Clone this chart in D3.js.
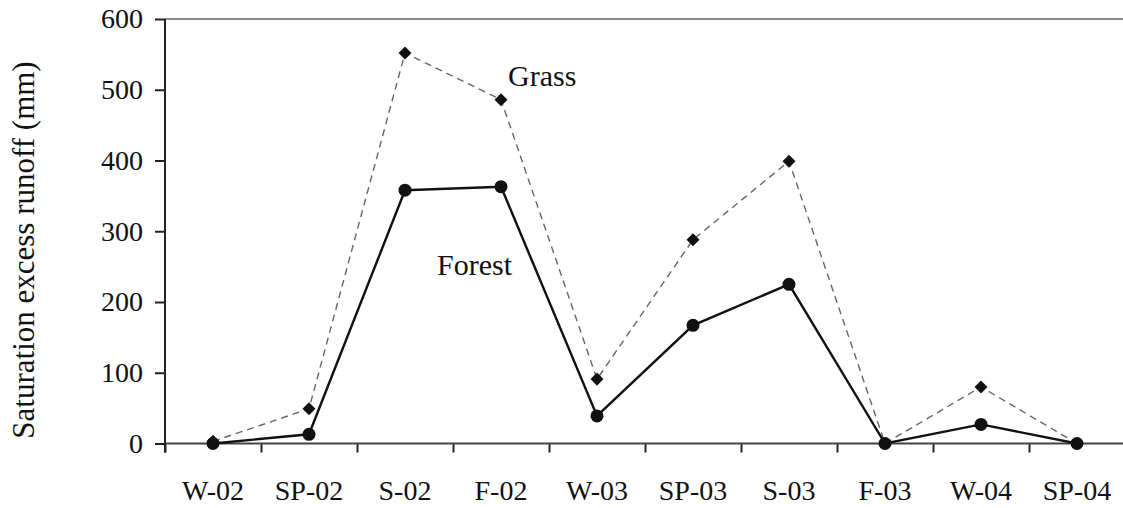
<!DOCTYPE html>
<html>
<head>
<meta charset="utf-8">
<script src="https://cdn.jsdelivr.net/npm/d3@7"></script>
<style>
  html, body { margin: 0; padding: 0; background: #fff; }
  svg { display: block; }
</style>
</head>
<body>
<svg id="chart" width="1123" height="508"></svg>
<script>
// Seasons (W = winter, SP = spring, S = summer, F = fall)
const seasons = ["W-02", "SP-02", "S-02", "F-02", "W-03", "SP-03", "S-03", "F-03", "W-04", "SP-04"];
// Saturation excess runoff (mm) per season
const grassRunoff  = [3, 49, 552, 486, 91, 288, 399, 0, 80, 0];
const forestRunoff = [0, 13, 358, 363, 39, 167, 225, 0, 27, 0];
const yTicks = [0, 100, 200, 300, 400, 500, 600];

const SERIF = "'Liberation Serif', 'Times New Roman', Times, serif";

const svg = d3.select("#chart");
const plotLeft = 165, plotRight = 1125, plotTop = 19, plotBottom = 443.5;

const x = d3.scaleBand().domain(seasons).range([plotLeft, plotRight]).padding(0);
const xEdge = d3.scaleLinear().domain([0, seasons.length]).range([plotLeft, plotRight]);
const y = d3.scaleLinear().domain([0, 600]).range([plotBottom, plotTop]);
const cx = d => x(d) + x.bandwidth() / 2;

// top frame line
svg.append("line")
  .attr("x1", plotLeft).attr("x2", 1123)
  .attr("y1", y(600)).attr("y2", y(600))
  .attr("stroke", "#8a8a8a").attr("stroke-width", 2);

// boundary ticks under the x axis
const xTickAxis = svg.append("g")
  .attr("transform", `translate(0,${plotBottom})`)
  .call(d3.axisBottom(xEdge).tickValues(d3.range(0, seasons.length + 1)).tickSize(9).tickFormat(""));
xTickAxis.select(".domain").remove();
xTickAxis.selectAll(".tick line").attr("stroke", "#222").attr("stroke-width", 2);

// x axis line and season labels
const xAxis = svg.append("g")
  .attr("transform", `translate(0,${plotBottom})`)
  .call(d3.axisBottom(x).tickSize(0).tickPadding(37));
xAxis.attr("font-family", SERIF);
xAxis.select(".domain").remove();
xAxis.selectAll("text")
  .style("font-family", SERIF).style("font-size", "28px").attr("fill", "#111");
svg.append("line")
  .attr("x1", plotLeft).attr("x2", 1123)
  .attr("y1", plotBottom).attr("y2", plotBottom)
  .attr("stroke", "#444").attr("stroke-width", 2);

// y axis
const yAxis = svg.append("g")
  .attr("transform", `translate(${plotLeft},0)`)
  .call(d3.axisLeft(y).tickValues(yTicks).tickSize(10).tickPadding(12));
yAxis.attr("font-family", SERIF);
yAxis.select(".domain").remove();
yAxis.selectAll(".tick line").attr("stroke", "#222").attr("stroke-width", 2);
yAxis.selectAll("text")
  .style("font-family", SERIF).style("font-size", "28px").attr("fill", "#111");
svg.append("line")
  .attr("x1", plotLeft).attr("x2", plotLeft)
  .attr("y1", plotTop).attr("y2", plotBottom + 9)
  .attr("stroke", "#222").attr("stroke-width", 2);

// y axis title
svg.append("text")
  .attr("transform", `translate(34,250) rotate(-90)`)
  .attr("text-anchor", "middle")
  .style("font-family", SERIF)
  .style("font-size", "31px")
  .attr("fill", "#111")
  .text("Saturation excess runoff (mm)");

const line = d3.line().x((d, i) => cx(seasons[i])).y(d => y(d));

// grass: dashed grey line with diamond markers
svg.append("path")
  .datum(grassRunoff)
  .attr("d", line)
  .attr("fill", "none")
  .attr("stroke", "#666")
  .attr("stroke-width", 1.4)
  .attr("stroke-dasharray", "7,5");

svg.append("g").selectAll("path")
  .data(grassRunoff)
  .join("path")
  .attr("d", d3.symbol(d3.symbolSquare, 85))
  .attr("transform", (d, i) => `translate(${cx(seasons[i])},${y(d)}) rotate(45)`)
  .attr("fill", "#111");

// forest: solid black line with circle markers
svg.append("path")
  .datum(forestRunoff)
  .attr("d", line)
  .attr("fill", "none")
  .attr("stroke", "#111")
  .attr("stroke-width", 2.4);

svg.append("g").selectAll("circle")
  .data(forestRunoff)
  .join("circle")
  .attr("cx", (d, i) => cx(seasons[i]))
  .attr("cy", d => y(d))
  .attr("r", 6.5)
  .attr("fill", "#111");

// series labels
svg.append("text").attr("x", 508).attr("y", 86)
  .style("font-family", SERIF).style("font-size", "30px").attr("fill", "#111").text("Grass");
svg.append("text").attr("x", 437).attr("y", 275)
  .style("font-family", SERIF).style("font-size", "30px").attr("fill", "#111").text("Forest");
</script>
</body>
</html>
